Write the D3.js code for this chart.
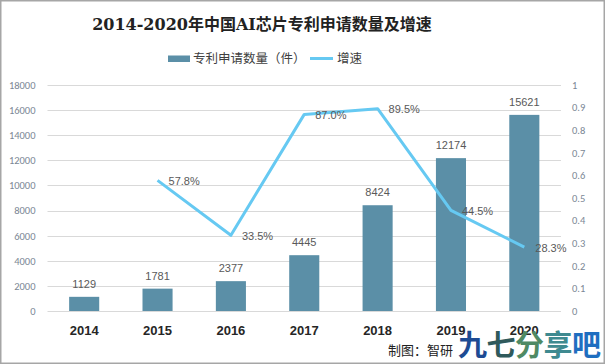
<!DOCTYPE html>
<html lang="zh">
<head>
<meta charset="utf-8">
<title>2014-2020年中国AI芯片专利申请数量及增速</title>
<script src="https://d3js.org/d3.v7.min.js"></script>
<style>
  body { margin: 0; background: #fff; }
  svg { display: block; font-family: "Noto Sans CJK SC", "Open Sans", sans-serif; }
  .grid line { stroke: #d9d9d9; stroke-width: 1; }
  .tick text { fill: #7b8795; font-size: 10.5px; font-family: Calibri, "Liberation Sans", "Noto Sans CJK SC", sans-serif; }
  text.value { fill: #595959; font-size: 11px; font-family: "Liberation Sans", "Noto Sans CJK SC", sans-serif; }
  text.year { fill: #262626; font-size: 13px; font-weight: bold; font-family: "Liberation Sans", sans-serif; }
</style>
</head>
<body>
<svg width="605" height="364"></svg>
<script>
// data
var years = ['2014', '2015', '2016', '2017', '2018', '2019', '2020'];
var patents = [1129, 1781, 2377, 4445, 8424, 12174, 15621];
var growth = [null, 0.578, 0.335, 0.870, 0.895, 0.445, 0.283];
var leftTicks = [0, 2000, 4000, 6000, 8000, 10000, 12000, 14000, 16000, 18000];
var rightTicks = [0, 0.1, 0.2, 0.3, 0.4, 0.5, 0.6, 0.7, 0.8, 0.9, 1];

var barColor = '#5b8fa7';
var lineColor = '#66c9f2';

var svg = d3.select('svg');

// frame
svg.append('rect')
  .attr('x', 0.75).attr('y', 0.75)
  .attr('width', 603.5).attr('height', 362.5)
  .attr('fill', 'none').attr('stroke', '#a6a6a6').attr('stroke-width', 1.5);

// title
svg.append('text')
  .attr('x', 262).attr('y', 30)
  .attr('text-anchor', 'middle')
  .style('font-family', '"DejaVu Serif", "Noto Sans CJK SC", serif')
  .style('font-weight', 'bold')
  .style('font-size', '16px')
  .style('fill', '#222')
  .text('2014-2020年中国AI芯片专利申请数量及增速');

// legend
var legend = svg.append('g').style('font-size', '12.5px').style('fill', '#404040');
legend.append('rect').attr('x', 168).attr('y', 55.5).attr('width', 22).attr('height', 6.5).attr('fill', barColor);
legend.append('text').attr('x', 193).attr('y', 63).text('专利申请数量（件）');
legend.append('line').attr('x1', 310).attr('x2', 333).attr('y1', 58.5).attr('y2', 58.5)
  .attr('stroke', lineColor).attr('stroke-width', 3);
legend.append('text').attr('x', 337).attr('y', 63).text('增速');

var plotL = 47.5, plotR = 561, plotT = 85, plotB = 311;

var x = d3.scaleBand().domain(years).range([plotL, plotR]).paddingInner(0.59).paddingOuter(0.295);
var y = d3.scaleLinear().domain([0, 18000]).range([plotB, plotT]);
var y2 = d3.scaleLinear().domain([0, 1]).range([plotB, plotT]);

// grid
svg.append('g').attr('class', 'grid')
  .selectAll('line').data(leftTicks).enter().append('line')
  .attr('x1', plotL).attr('x2', plotR)
  .attr('y1', d => Math.round(y(d)) + 0.5).attr('y2', d => Math.round(y(d)) + 0.5);

// left axis
var axL = svg.append('g')
  .attr('transform', 'translate(' + (plotL - 12) + ',0)')
  .call(d3.axisLeft(y).tickValues(leftTicks).tickSize(0).tickPadding(0).tickFormat(d3.format('d')));
axL.select('.domain').remove();

// right axis
var axR = svg.append('g')
  .attr('transform', 'translate(' + (plotR + 11) + ',0)')
  .call(d3.axisRight(y2).tickValues(rightTicks).tickSize(0).tickPadding(0).tickFormat(d3.format('')));
axR.select('.domain').remove();

// x labels
svg.append('g').selectAll('text').data(years).enter().append('text')
  .attr('class', 'year')
  .attr('x', d => x(d) + x.bandwidth() / 2)
  .attr('y', 335)
  .attr('text-anchor', 'middle')
  .text(d => d);

// bars
svg.append('g').selectAll('rect').data(patents).enter().append('rect')
  .attr('x', (d, i) => x(years[i]))
  .attr('y', d => y(d))
  .attr('width', x.bandwidth())
  .attr('height', d => plotB - y(d))
  .attr('fill', barColor);

svg.append('g').selectAll('text').data(patents).enter().append('text')
  .attr('class', 'value')
  .attr('x', (d, i) => x(years[i]) + x.bandwidth() / 2)
  .attr('y', d => y(d) - 9)
  .attr('text-anchor', 'middle')
  .text(d => d);

// growth line
var pts = growth.map((g, i) => ({ year: years[i], g: g })).filter(d => d.g !== null);
var line = d3.line()
  .x(d => x(d.year) + x.bandwidth() / 2)
  .y(d => y2(d.g));

svg.append('path').datum(pts)
  .attr('d', line)
  .attr('fill', 'none')
  .attr('stroke', lineColor)
  .attr('stroke-width', 3)
  .attr('stroke-linejoin', 'round');

svg.append('g').selectAll('text').data(pts).enter().append('text')
  .attr('class', 'value')
  .attr('x', d => x(d.year) + x.bandwidth() / 2 + 11)
  .attr('y', d => y2(d.g) + 4.5)
  .text(d => d3.format('.1%')(d.g));

// source + watermark
svg.append('text')
  .attr('x', 388).attr('y', 355)
  .style('font-size', '13px').style('fill', '#222')
  .text('制图：智研');

var wm = ['九', '七', '分', '享', '吧'];
var wmColors = ['#1d4b93', '#2f5a5c', '#4f8a64', '#3f8a90', '#1f6ec0'];
svg.append('g').selectAll('text').data(wm).enter().append('text')
  .attr('x', (d, i) => 458 + i * 28.5)
  .attr('y', 356)
  .style('font-size', '29px').style('font-weight', 'bold')
  .style('fill', (d, i) => wmColors[i])
  .text(d => d);
</script>
</body>
</html>
